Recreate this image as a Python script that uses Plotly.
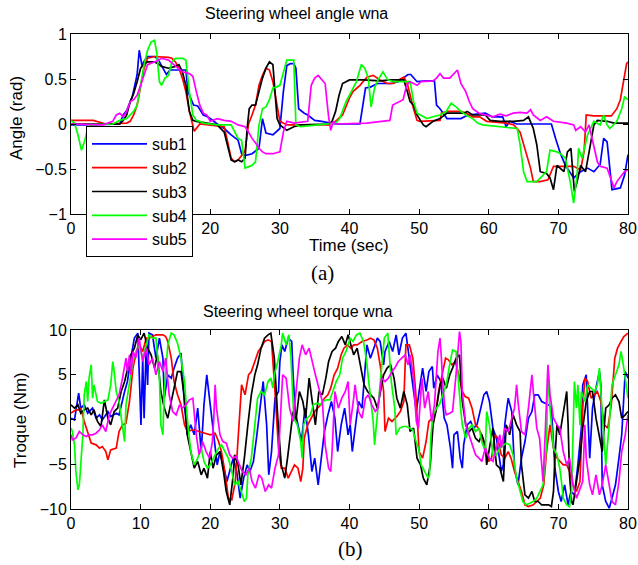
import plotly.graph_objects as go

# ---------------- data (time in s, value) ----------------
series_names = ["sub1", "sub2", "sub3", "sub4", "sub5"]
series_colors = ["#0000FF", "#FF0000", "#000000", "#00FF00", "#FF00FF"]

angle_sub1 = [(0,-0.01),(3,-0.01),(7,0.0),(7.5,0.1),(8,0.15),(8.8,0.3),(9.5,0.55),(9.8,0.82),(10.2,0.65),(10.6,0.71),(11,0.75),(12,0.75),(12.5,0.72),(13.2,0.62),(13.7,0.55),(14.2,0.6),(16.5,0.6),(16.8,0.36),(17.6,0.21),(18.2,0.2),(19,0.1),(19.6,0.08),(20.2,0.05),(21,0.0),(22,-0.05),(23,-0.12),(24,-0.18),(24.5,-0.33),(25,-0.35),(26,-0.33),(27,-0.27),(27.5,0.06),(28,-0.1),(29,-0.12),(30,-0.05),(30.5,0.36),(31,0.65),(31.5,0.67),(32,0.67),(32.3,0.62),(32.7,0.17),(33.5,0.12),(34,0.1),(35,0.04),(36,0.03),(38,0.0),(40,0.0),(41.5,0.0),(42.3,0.4),(43,0.41),(44,0.45),(45,0.45),(46,0.45),(47,0.47),(48.4,0.55),(48.8,0.55),(49.7,0.47),(51,0.48),(52.2,0.48),(52.5,0.21),(53,0.17),(54,0.06),(56,0.06),(57,0.1),(59.5,0.12),(60.5,0.08),(62,0.08),(62.5,-0.03),(63,0.03),(64,0.0),(66,0.0),(68,0.0),(69,0.0),(69.6,-0.16),(70.3,-0.33),(71,-0.46),(72.2,-0.6),(73.2,-0.53),(74.2,-0.49),(75.1,-0.53),(76,-0.45),(76.5,-0.16),(77,-0.2),(77.7,-0.73),(78.9,-0.71),(79.5,-0.57),(80,-0.34)]
angle_sub2 = [(0,0.04),(3.2,0.04),(5,0.0),(8,0.01),(8.5,0.03),(9,0.1),(9.5,0.21),(10,0.4),(10.5,0.62),(11,0.73),(12,0.75),(14,0.74),(14.5,0.73),(15,0.69),(15.5,0.62),(16,0.51),(16.5,0.36),(17,0.14),(17.7,-0.08),(18.5,0.0),(22,-0.03),(22.5,-0.2),(23,-0.38),(23.5,-0.42),(24,-0.4),(25,-0.3),(25.5,0.0),(26,0.1),(26.5,0.21),(27,0.43),(27.5,0.54),(28,0.62),(28.5,0.6),(29,0.47),(29.5,0.25),(30,0.03),(31,-0.01),(37,-0.01),(38,0.03),(39,0.1),(40,0.29),(40.5,0.36),(41.5,0.43),(42.5,0.52),(43.4,0.54),(44.4,0.49),(45.4,0.45),(46.3,0.45),(47.3,0.5),(47.8,0.52),(48.3,0.45),(48.7,0.32),(49.2,0.17),(49.7,0.04),(50.1,0.03),(53,0.04),(53.2,0.12),(54,0.14),(56,0.14),(56.8,0.12),(57.7,0.08),(58.7,0.08),(59.7,0.03),(62.6,0.01),(63.6,-0.01),(64.5,-0.09),(65,-0.23),(65.5,-0.38),(66,-0.49),(66.4,-0.64),(67.4,-0.64),(68.5,-0.62),(69.3,-0.47),(71,-0.47),(72.2,-0.47),(73.2,-0.51),(73.7,-0.3),(74,0.1),(75,0.09),(77.6,0.09),(78.4,0.17),(78.9,0.27),(79.3,0.43),(79.8,0.67),(80,0.69)]
angle_sub3 = [(0,0.0),(7,0.0),(7.5,0.04),(8,0.1),(8.5,0.25),(9,0.34),(9.5,0.47),(10,0.62),(10.5,0.67),(11,0.69),(12,0.69),(12.5,0.67),(13,0.64),(14,0.62),(15,0.64),(15.5,0.66),(16,0.58),(16.5,0.43),(17,0.14),(17.5,0.04),(18,0.03),(21,-0.01),(22,-0.09),(22.5,-0.23),(23,-0.4),(23.5,-0.42),(24,-0.4),(24.5,-0.42),(25,-0.38),(25.3,-0.05),(25.6,0.17),(26,0.21),(26.5,0.21),(27,0.36),(27.5,0.51),(28,0.62),(28.5,0.69),(29,0.66),(29.3,0.36),(29.6,0.06),(30,-0.01),(31,-0.07),(32,-0.03),(33,-0.01),(37,0.0),(37.5,0.03),(38,0.14),(38.5,0.32),(39,0.45),(40,0.49),(42,0.49),(44.4,0.48),(46,0.49),(47.8,0.49),(48.3,0.36),(48.7,0.25),(49.2,0.21),(49.7,0.1),(50.6,-0.01),(51,-0.03),(52,0.03),(53,0.06),(54,0.12),(56.4,0.12),(56.9,0.14),(57.7,0.1),(59.5,0.1),(60.2,0.04),(61.6,0.03),(63.6,0.03),(65,0.04),(65.7,0.08),(66.4,-0.05),(66.9,-0.23),(67.4,-0.53),(68.3,-0.55),(68.8,-0.6),(69.3,-0.73),(69.8,-0.46),(70.8,-0.53),(71.3,-0.31),(71.8,-0.27),(72.3,-0.75),(72.7,-0.64),(73.2,-0.46),(73.9,-0.53),(74.6,-0.23),(75.1,-0.01),(75.6,0.04),(77,0.03),(78,0.01),(80,0.01)]
angle_sub4 = [(0,0.04),(0.5,0.01),(1,-0.12),(1.5,-0.29),(2,-0.18),(2.5,-0.01),(6,0.0),(7,0.04),(8,0.06),(8.5,0.1),(9,0.14),(9.5,0.21),(10,0.43),(10.5,0.66),(11,0.82),(11.5,0.91),(12,0.93),(12.3,0.8),(12.7,0.47),(13,0.43),(13.5,0.51),(14,0.54),(14.5,0.69),(15,0.73),(16,0.73),(16.5,0.71),(17,0.36),(17.5,0.1),(18,0.04),(18.5,0.03),(19,0.01),(21,-0.01),(23,-0.01),(23.5,-0.09),(24,-0.16),(24.5,-0.18),(25,-0.49),(26,-0.46),(26.5,-0.42),(27,-0.01),(27.5,0.17),(28,0.19),(28.5,0.27),(29,0.4),(29.5,0.41),(30,0.43),(30.5,0.58),(31,0.71),(32,0.71),(32.3,-0.01),(33,-0.03),(36,-0.01),(38,0.01),(38.6,0.06),(39.5,0.25),(40,0.32),(41,0.47),(41.7,0.66),(42.2,0.62),(42.7,0.51),(43.1,0.19),(43.6,0.4),(44.1,0.49),(44.8,0.58),(45.5,0.49),(46.3,0.47),(48.7,0.47),(49.2,0.25),(49.7,0.12),(50.2,0.1),(51.1,0.06),(52,0.08),(53,0.1),(53.9,0.14),(54.6,0.23),(55.3,0.19),(55.7,0.16),(56.7,0.1),(57.7,0.06),(58.4,0.01),(59.1,-0.01),(64.1,-0.05),(64.5,-0.23),(65,-0.53),(65.5,-0.64),(66.9,-0.64),(67.4,-0.6),(68.3,-0.53),(68.8,-0.29),(69.8,-0.31),(70.3,-0.33),(71,-0.38),(71.7,-0.64),(72.2,-0.88),(72.7,-0.55),(72.9,-0.27),(73.4,-0.38),(74.2,-0.12),(75.1,0.03),(76,-0.01),(76.5,0.1),(77,-0.01),(77.4,-0.05),(78.4,0.03),(79.1,0.17),(79.5,0.3),(80,0.27)]
angle_sub5 = [(0,0.0),(4.6,-0.01),(6,0.03),(6.5,0.1),(7,0.12),(7.5,0.08),(8,0.14),(8.5,0.25),(9,0.27),(9.5,0.32),(10,0.43),(10.5,0.54),(11,0.66),(12,0.69),(13,0.73),(14,0.71),(15,0.64),(16,0.58),(17,0.56),(17.5,0.53),(18,0.36),(18.5,0.21),(19,0.12),(19.5,0.1),(20,0.03),(21,0.06),(22,0.04),(23,0.03),(24,-0.01),(25,-0.03),(25.5,-0.09),(26,-0.16),(26.5,-0.21),(27,-0.27),(27.5,-0.31),(28,-0.33),(29,-0.33),(30,-0.31),(30.5,-0.09),(31,0.03),(32,0.01),(34,0.03),(34.5,0.43),(35,0.51),(35.5,0.54),(36,0.49),(36.5,0.45),(37,0.08),(37.3,-0.07),(37.7,0.03),(38,0.0),(42.5,0.01),(43.4,0.02),(44.8,0.03),(45.8,0.04),(46.2,0.21),(46.7,0.23),(47.7,0.27),(48.2,0.43),(48.7,0.47),(49.7,0.43),(50.3,0.47),(52,0.48),(52.5,0.51),(53,0.56),(53.5,0.51),(54.4,0.51),(55.3,0.58),(55.5,0.6),(56,0.45),(56.7,0.36),(57.2,0.25),(57.7,0.17),(58.6,0.12),(59.6,0.1),(60.6,0.08),(61.6,0.11),(62.5,0.09),(63.5,0.12),(64.5,0.13),(65.5,0.12),(66,0.16),(66.4,0.1),(67.4,0.04),(68.3,0.08),(69.3,0.03),(71.2,0.01),(72.2,-0.01),(72.5,-0.07),(73.2,-0.03),(73.9,-0.09),(74.4,-0.01),(74.9,-0.18),(75.6,-0.42),(76,-0.47),(77,-0.49),(77.5,-0.6),(78,-0.71),(78.4,-0.64),(79.1,-0.57),(79.5,-0.53),(80,-0.51)]

torque_sub1 = [(0,0.15),(0.5,-0.04),(1.1,2.94),(1.4,1.27),(1.9,1.64),(2.4,0.71),(3.1,1.27),(3.6,0.15),(4.1,0.52),(4.5,-0.04),(5.3,0.89),(5.7,0.34),(6.5,0.71),(6.9,0.52),(7.7,3.13),(8.1,4.25),(8.6,6.85),(9.1,9.09),(9.6,9.65),(9.8,4.99),(10.05,-0.6),(10.3,6.85),(10.5,0.15),(10.8,8.34),(11,3.87),(11.2,9.65),(11.7,9.46),(12.2,6.85),(12.7,9.09),(13.2,6.85),(13.4,2.38),(13.9,4.99),(14.4,4.62),(14.8,5.74),(15.3,6.85),(15.8,7.41),(16.3,1.64),(16.7,-1.71),(17.2,-0.6),(17.7,-1.71),(18.2,1.27),(18.7,-3.58),(19.1,1.64),(19.5,4.99),(20.1,0.89),(20.5,-1.71),(21,-5.07),(21.4,-3.58),(21.9,-5.44),(22.4,-6.93),(22.9,-5.44),(23.3,-4.32),(23.8,-5.81),(24.3,-8.79),(24.8,-6.55),(25.3,-5.07),(25.7,-5.81),(26.2,-4.69),(26.7,-1.71),(27.2,1.27),(27.6,4.25),(28.1,-0.6),(28.4,-6.18),(28.8,-3.58),(29.3,2.38),(29.8,3.13),(30,6.48),(30.3,8.34),(30.7,7.6),(31.2,9.09),(31.7,8.72),(31.9,4.99),(32.2,0.89),(32.6,-0.6),(33.1,-2.46),(33.6,1.27),(34.1,-1.71),(34.6,-5.81),(35,-4.32),(35.5,-7.3),(36,-3.58),(36.4,-1.34),(36.9,0.52),(37.4,2.01),(37.9,0.15),(38.3,-3.58),(38.8,-0.6),(39.3,1.27),(39.8,-1.71),(40.1,-0.6),(40.4,-3.58),(40.9,-0.22),(41.3,2.01),(41.8,1.27),(42.3,5.74),(42.5,8.34),(43,6.85),(43.5,7.97),(44,9.09),(44.4,8.72),(44.9,6.11),(45.1,7.6),(45.7,8.72),(46.2,7.6),(46.7,9.46),(47.1,7.23),(47.6,9.09),(48.1,9.65),(48.6,6.85),(49.1,3.87),(49.6,0.89),(50,3.13),(50.5,5.74),(51,3.13),(51.4,5.36),(51.9,5.92),(52.1,3.5),(52.6,4.99),(53.1,4.25),(53.6,0.15),(54,-0.6),(54.5,-3.2),(54.8,-5.44),(55,-1.71),(55.5,-1.34),(55.9,-4.32),(56.2,-5.44),(56.4,-2.83),(56.9,-0.6),(57.4,-0.22),(57.8,-0.97),(58.3,-0.6),(58.8,1.27),(59.3,2.76),(59.7,3.13),(60.1,2.01),(60.6,-0.97),(61.1,-2.09),(61.6,-4.69),(61.8,-5.81),(62.1,-5.07),(62.3,-0.6),(62.6,1.27),(62.8,2.38),(63.3,0.89),(63.7,-5.44),(64.2,-7.3),(64.7,-4.32),(65.2,-2.46),(65.7,0.15),(66.2,0.89),(66.6,2.76),(67.1,2.76),(67.6,2.01),(68.1,1.82),(68.6,1.64),(69,1.27),(69.5,-5.44),(70,-8.04),(70.4,-9.16),(70.9,-7.3),(71.4,-9.53),(71.8,-8.04),(72.3,-8.42),(72.8,-5.07),(73.3,-0.97),(73.5,3.87),(74,4.99),(74.5,-4.32),(74.9,1.27),(75.4,3.5),(75.9,5.36),(76.1,3.87),(76.3,-7.3),(76.8,-9.16),(77.3,-9.91),(77.7,-8.79),(78.2,-7.3),(78.7,-4.32),(79.1,-1.71),(79.6,5.36),(80,4.62)]
torque_sub2 = [(0,0.71),(0.7,1.08),(1.2,1.08),(1.4,1.27),(1.9,-0.22),(2.4,-1.34),(2.9,-2.64),(3.6,-2.83),(4.1,-3.2),(4.5,-3.02),(5,-3.58),(5.3,-4.51),(5.7,-3.39),(6.5,-3.2),(6.9,-1.34),(7.4,-0.6),(7.9,-0.41),(8.4,2.01),(8.9,5.74),(9.3,7.23),(9.8,8.34),(10.3,7.6),(10.8,9.09),(11.2,9.09),(11.7,9.27),(12.2,9.46),(13.2,9.46),(13.6,9.27),(13.9,8.72),(14.4,6.85),(14.8,4.25),(15.3,2.76),(15.8,1.64),(16.3,-0.6),(16.7,-1.34),(17.5,-1.15),(18.4,-1.34),(19.4,-1.53),(20,-1.71),(20.7,-1.53),(21.2,-2.46),(21.6,-3.58),(22.1,-5.81),(22.6,-8.79),(23.1,-8.98),(23.6,-6.93),(24,-2.46),(24.5,3.87),(25,2.76),(25.5,4.99),(25.9,5.36),(26.4,6.48),(26.9,7.6),(27.4,8.16),(27.8,8.72),(28.3,8.9),(28.8,8.72),(29.3,3.13),(29.8,-3.2),(30.2,-5.44),(30.7,-5.44),(31.2,-6.55),(31.6,-5.81),(32.1,-5.07),(32.6,-5.44),(33,-6.93),(33.3,-5.44),(33.5,-2.09),(34,-0.6),(34.5,0.15),(35,0.89),(35.4,1.27),(35.9,1.64),(36.4,2.38),(36.9,2.76),(37.3,3.5),(37.8,4.99),(38.3,5.74),(38.8,7.23),(39.2,7.97),(39.7,8.34),(40.2,7.97),(40.6,8.34),(41.1,8.34),(41.8,8.72),(42.6,8.9),(43,9.09),(43.5,8.9),(44,7.97),(44.4,6.11),(44.9,3.13),(45.1,-1.34),(45.6,0.15),(46.1,-0.22),(46.8,0.34),(47.3,0.89),(47.8,2.01),(48.1,8.34),(48.6,8.34),(49.1,6.85),(49.5,3.13),(50,-3.58),(50.5,-4.32),(51,-2.46),(51.4,-0.22),(51.9,0.15),(52.4,0.89),(52.8,3.13),(53.3,4.99),(53.8,6.85),(54.2,6.67),(54.7,6.11),(55.2,6.48),(55.7,4.99),(56.2,3.13),(56.6,2.57),(57.1,2.38),(57.6,1.27),(58.1,-0.6),(58.5,-0.97),(59,-1.71),(59.5,-3.58),(60,-4.69),(60.4,-4.32),(60.9,-1.71),(61.3,-2.09),(61.8,-3.95),(62.3,-4.32),(62.8,-3.58),(63.2,-4.32),(63.7,-5.81),(64.2,-6.93),(64.7,-8.04),(65.2,-9.53),(65.7,-9.72),(66.4,-9.53),(66.9,-9.16),(67.4,-8.79),(67.9,-7.3),(68.3,-3.58),(68.8,-0.6),(69.3,-3.2),(69.8,-4.32),(70.2,-4.69),(70.7,-5.07),(71.2,-5.07),(71.6,-5.81),(72.1,-7.3),(72.6,-8.04),(73.1,-6.93),(73.5,1.27),(73.8,4.62),(74.2,4.25),(74.7,2.38),(75.2,2.76),(75.6,3.13),(76.1,2.01),(76.6,-0.6),(77.1,-0.97),(77.6,1.64),(78.1,6.85),(78.5,7.97),(79,8.72),(79.4,9.27),(80,9.65)]
torque_sub3 = [(0,1.64),(0.5,1.27),(1,1.64),(1.4,0.71),(1.9,1.08),(2.4,1.27),(2.9,0.52),(3.3,1.08),(3.8,-0.22),(4.3,-0.78),(4.8,2.2),(5.3,0.15),(5.7,-0.6),(6.2,0.89),(6.7,1.27),(7.2,3.13),(7.7,4.25),(8.1,5.74),(8.6,7.23),(9.1,7.97),(9.6,9.46),(10,8.9),(10.5,9.65),(11,7.97),(11.5,7.23),(12,5.74),(12.4,7.23),(12.9,3.13),(13.4,1.27),(13.9,0.15),(14.4,2.01),(14.8,3.5),(15.3,5.36),(15.8,5.36),(16.3,2.38),(16.7,-1.71),(17.2,-3.58),(17.7,-5.44),(18.2,-4.69),(18.7,-6.18),(19.1,-5.44),(19.6,-6.55),(20,-3.58),(20.4,-5.44),(20.9,-3.95),(21.4,-3.58),(21.9,-5.81),(22.3,-8.04),(22.8,-9.53),(23.3,-6.18),(23.5,-3.95),(24,-5.07),(24.4,-7.3),(24.9,-4.32),(25.4,-0.6),(25.9,2.76),(26.4,4.99),(26.8,6.11),(27.3,7.97),(27.8,9.09),(28.3,9.46),(28.7,9.65),(29.2,6.85),(29.7,0.15),(30.2,-5.07),(30.7,-6.55),(31.1,-4.32),(31.6,-1.34),(31.9,0.89),(32.3,-0.22),(32.8,3.13),(33.3,2.01),(33.7,0.15),(34.2,4.62),(34.7,1.64),(35.1,-0.6),(35.6,3.13),(36.1,2.76),(36.6,4.62),(37,6.48),(37.5,7.6),(38,7.97),(38.4,8.72),(38.9,9.27),(39.4,8.34),(39.8,9.46),(40.2,8.34),(40.6,7.23),(41.1,7.97),(41.6,5.74),(42.1,3.87),(42.6,3.13),(43,2.76),(43.5,2.38),(44,1.27),(44.4,3.13),(44.9,4.99),(45.4,5.74),(45.9,6.11),(46.4,4.62),(46.8,2.38),(47.3,1.27),(47.8,3.13),(48.3,1.64),(48.7,-1.34),(49.2,-0.97),(49.7,-4.32),(50.2,-5.07),(50.6,-6.55),(51.1,-7.3),(51.6,-5.07),(52,-0.6),(52.5,1.27),(53,3.87),(53.4,4.62),(53.9,3.5),(54.4,4.99),(54.8,5.74),(55.3,6.85),(55.8,7.23),(56.2,2.01),(56.7,-0.6),(57.2,-1.34),(57.6,-0.97),(58.1,-2.09),(58.6,-2.46),(59,-1.71),(59.5,-2.83),(59.7,-5.07),(60.1,-3.2),(60.6,-0.97),(61.1,-5.07),(61.6,-5.44),(62.1,-6.93),(62.5,-0.6),(63,-1.71),(63.5,0.52),(64,-0.6),(64.5,-1.34),(64.7,-5.07),(65.2,-8.42),(65.7,-8.79),(66.2,-8.04),(66.6,-9.16),(67.1,-9.16),(67.6,-9.53),(68.1,-9.53),(68.6,-9.53),(69,-9.72),(69.3,-8.04),(69.5,-4.32),(69.8,-0.6),(70.2,-1.71),(70.7,0.89),(70.9,2.01),(71.2,3.13),(71.4,-0.6),(71.6,-6.18),(71.9,-9.16),(72.1,-9.53),(72.6,-6.93),(73.1,-4.32),(73.5,-0.97),(74,2.01),(74.5,3.13),(74.9,3.13),(75.4,0.15),(75.9,-1.71),(76.3,-3.58),(76.8,1.27),(77.3,1.64),(77.7,2.38),(78.2,2.76),(78.7,2.01),(79.1,0.15),(79.6,0.52),(80,0.89)]
torque_sub4 = [(0,-0.97),(0.2,-1.34),(0.5,-2.83),(0.7,-5.81),(1,-7.86),(1.2,-7.3),(1.4,-5.07),(1.7,-1.71),(1.9,2.76),(2.2,4.25),(2.4,2.01),(2.6,4.62),(2.9,6.11),(3.1,2.38),(3.3,3.87),(3.8,2.01),(4.3,1.82),(4.8,2.01),(5.3,2.2),(5.7,3.87),(6,6.48),(6.2,5.36),(6.5,3.13),(6.9,2.01),(7.4,-0.6),(7.7,-2.46),(7.9,1.64),(8.4,4.25),(8.9,6.48),(9.3,7.6),(9.8,8.34),(10.3,6.85),(10.8,8.34),(11.2,9.46),(11.7,9.09),(12.2,9.09),(12.7,4.62),(12.9,-0.6),(13.2,-1.71),(13.4,3.13),(13.9,8.34),(14.4,9.65),(14.8,9.46),(15.3,8.53),(15.8,6.85),(16.3,4.25),(16.7,0.15),(17.2,-3.58),(17.7,-5.07),(18.2,-4.32),(18.7,-3.2),(19.1,-4.69),(19.6,-5.44),(20,-5.07),(20.7,-3.95),(21.2,-3.2),(21.6,-2.83),(22.1,-3.58),(22.6,-4.32),(23.1,-5.81),(23.5,-7.3),(24,-6.93),(24.5,-8.04),(24.9,-9.16),(25.2,-8.79),(25.4,-6.18),(25.9,-4.32),(26.4,-0.6),(26.8,2.38),(27.3,3.13),(27.8,2.76),(28.3,4.25),(28.7,4.62),(29,3.5),(29.2,4.99),(29.7,6.48),(30.2,8.34),(30.4,9.65),(30.9,8.34),(31.3,9.46),(31.6,6.85),(31.8,3.5),(32,0.15),(32.5,-0.6),(33,-2.46),(33.2,-4.32),(33.4,-0.6),(33.9,0.15),(34.4,0.52),(34.8,1.64),(35.3,1.82),(35.8,1.64),(36.2,2.01),(36.7,2.2),(37.2,2.2),(37.6,3.13),(38.1,4.25),(38.6,4.99),(39,6.85),(39.5,7.6),(40.1,9.09),(40.5,8.72),(41,9.46),(41.5,9.65),(42,8.72),(42.4,6.85),(42.9,3.13),(43.4,-0.22),(43.6,-2.83),(44.1,1.64),(44.6,5.74),(45,9.09),(45.5,9.65),(46,4.25),(46.5,1.27),(46.7,-1.71),(47.2,-0.97),(47.7,-0.78),(48.2,-0.78),(48.7,-0.97),(49.1,-1.15),(49.4,-2.09),(49.9,-3.2),(50.3,-5.07),(50.8,-5.81),(51.3,-6.55),(51.5,-6.18),(51.7,-1.71),(52,0.52),(52.5,1.27),(52.9,1.64),(53.4,2.76),(53.9,3.87),(54.3,5.74),(54.8,7.78),(55.3,7.6),(55.7,3.13),(56,0.89),(56.2,-0.6),(56.7,-2.09),(57.2,-0.97),(57.6,-0.6),(58.1,-1.34),(58.6,-0.97),(59,-2.46),(59.5,-3.58),(59.7,0.89),(60.1,-0.6),(60.6,-3.95),(61.1,-3.95),(61.6,-3.2),(62.1,-2.83),(62.5,-2.64),(63,-2.83),(63.5,-3.95),(64,-6.55),(64.5,-8.04),(64.9,-9.16),(65.4,-9.53),(65.9,-9.35),(66.4,-9.16),(66.9,-8.79),(67.3,-8.04),(67.8,-7.3),(68.3,-2.83),(68.5,5.54),(68.8,1.27),(69.3,-3.2),(69.8,-3.95),(70.2,-5.44),(70.5,-7.3),(70.7,-8.79),(71.2,-9.53),(71.6,-9.72),(71.9,-8.04),(72.1,-0.6),(72.3,4.25),(72.6,1.27),(72.8,3.87),(73.1,-0.6),(73.3,3.13),(73.8,2.01),(74.2,3.87),(74.7,3.5),(75.2,3.13),(75.6,3.87),(75.9,5.74),(76.1,3.13),(76.6,-2.83),(76.8,-5.07),(77.3,-0.6),(77.7,3.87),(78.2,4.99),(78.7,6.11),(79,7.6),(79.4,5.74),(80,2.38)]
torque_sub5 = [(0,-1.71),(0.2,-2.27),(0.7,-2.09),(1.2,-1.34),(1.7,-1.71),(2.2,-1.9),(2.6,-1.71),(3.1,-1.71),(3.6,-1.53),(4.1,-1.15),(4.5,-0.6),(5,-1.34),(5.5,0.52),(6,1.27),(6.5,2.01),(6.9,2.76),(7.4,4.62),(7.9,6.85),(8.1,5.36),(8.4,7.23),(8.6,4.99),(8.9,7.6),(9.3,6.85),(9.8,9.09),(10,7.97),(10.3,6.48),(10.8,7.97),(11.2,6.11),(11.7,6.85),(12.2,4.99),(12.7,6.48),(13.2,5.36),(13.6,6.85),(14.1,2.76),(14.6,0.89),(15.1,0.52),(15.6,1.64),(16,1.27),(16.5,1.64),(17,2.2),(17.5,2.38),(18,-1.71),(18.4,-3.95),(18.9,-2.46),(19.4,-3.58),(19.9,-4.32),(20.3,-2.5),(20.5,-0.04),(20.7,3.87),(20.9,1.27),(21.4,-1.71),(21.8,-2.46),(22.3,-2.64),(22.8,-3.95),(23.2,-4.32),(23.7,-4.13),(24.2,-5.07),(24.6,-5.81),(25.1,-6.18),(25.6,-5.44),(26,-6.93),(26.5,-7.67),(27,-6.18),(27.4,-6.55),(27.9,-8.04),(28.4,-7.3),(28.8,-7.67),(29.3,-5.44),(29.8,-3.95),(30.2,3.13),(30.4,4.99),(30.9,4.62),(31.4,1.27),(31.9,-0.22),(32.3,3.13),(32.8,6.85),(33.2,8.34),(33.7,7.23),(34.2,7.97),(34.6,6.48),(35.1,4.99),(35.6,3.5),(36.1,2.01),(36.5,-2.83),(37,-5.44),(37.3,-5.81),(37.5,-3.58),(37.9,3.13),(38.4,1.27),(38.9,2.38),(39.4,3.13),(39.8,4.25),(40.1,-0.6),(40.6,2.38),(40.8,3.87),(41.3,0.89),(41.8,0.15),(42.3,2.38),(42.7,2.76),(43.2,1.64),(43.7,0.89),(44.1,1.27),(44.6,4.62),(45.1,4.25),(45.6,4.62),(46.1,5.36),(46.5,5.74),(47,6.48),(47.5,6.85),(48,7.23),(48.4,6.11),(48.7,7.23),(49.2,4.62),(49.6,-0.22),(49.9,-0.97),(50.4,4.62),(50.8,1.27),(51.3,3.13),(51.8,-0.22),(52.2,1.64),(52.7,7.6),(53,9.09),(53.2,6.85),(53.4,3.87),(53.7,1.27),(53.9,0.52),(54.4,0.71),(54.8,0.89),(55.3,4.99),(55.8,9.83),(56,8.72),(56.2,3.13),(56.7,-0.6),(57.2,-1.71),(57.6,-2.83),(58.1,-3.95),(58.6,-4.32),(59,-4.69),(59.5,-3.2),(59.7,-3.58),(60.1,-4.32),(60.6,-4.69),(61.1,-3.2),(61.6,-1.71),(61.8,-3.2),(62.1,-1.71),(62.3,-0.97),(62.8,-1.34),(63.2,-0.22),(63.7,1.27),(64,3.87),(64.2,2.01),(64.7,-1.34),(65.2,-1.71),(65.7,1.27),(66.2,4.99),(66.4,3.13),(66.9,-0.97),(67.3,-2.09),(67.8,-6.93),(68.1,-1.71),(68.5,6.11),(68.8,2.76),(69.3,0.15),(69.8,-0.6),(70.2,-0.97),(70.7,-3.58),(71.2,-5.07),(71.6,-4.32),(72.1,-7.3),(72.6,-8.79),(73,-8.04),(73.5,-6.93),(73.8,-0.6),(74,-4.32),(74.5,-7.3),(74.9,-8.42),(75.4,-6.18),(75.9,-8.42),(76.3,-7.3),(76.8,-5.07),(77.3,-7.3),(77.7,-9.16),(78.2,-9.53),(78.7,-6.93),(79.1,-3.58),(79.6,-1.71),(80,0.52)]

angle_series = [angle_sub1, angle_sub2, angle_sub3, angle_sub4, angle_sub5]
torque_series = [torque_sub1, torque_sub2, torque_sub3, torque_sub4, torque_sub5]

x_ticks = [0, 10, 20, 30, 40, 50, 60, 70, 80]
angle_ticks = [-1, -0.5, 0, 0.5, 1]
angle_tick_text = ["\u22121", "\u22120.5", "0", "0.5", "1"]
torque_ticks = [-10, -5, 0, 5, 10]
torque_tick_text = ["\u221210", "\u22125", "0", "5", "10"]

# ---------------- figure ----------------
W, H = 638, 565
fig = go.Figure()

for name, color, data in zip(series_names, series_colors, angle_series):
    t, v = zip(*data)
    fig.add_trace(go.Scatter(x=list(t), y=list(v), mode="lines", name=name,
                             line=dict(color=color, width=1.7),
                             xaxis="x", yaxis="y", showlegend=True))
for name, color, data in zip(series_names, series_colors, torque_series):
    t, v = zip(*data)
    fig.add_trace(go.Scatter(x=list(t), y=list(v), mode="lines", name=name,
                             line=dict(color=color, width=1.7),
                             xaxis="x2", yaxis="y2", showlegend=False))

def px_x(p):
    return p / W

def px_y(p):
    return 1 - p / H

axis_common = dict(showline=True, linecolor="black", linewidth=1, mirror="ticks",
                   ticks="inside", ticklen=5, tickcolor="black", tickwidth=1,
                   showgrid=False, zeroline=False, automargin=False,
                   tickfont=dict(family="Liberation Sans, Arial", size=16, color="black"))

x_dom = [px_x(71), px_x(628)]
fig.update_layout(
    width=W, height=H,
    margin=dict(l=0, r=0, t=0, b=0, autoexpand=False),
    paper_bgcolor="white", plot_bgcolor="white",
    font=dict(family="Liberation Sans, Arial", color="black", size=16),
    xaxis=dict(domain=x_dom, range=[0, 80], tickvals=x_ticks, anchor="y", **axis_common),
    yaxis=dict(domain=[px_y(214), px_y(34)], range=[-1, 1], tickvals=angle_ticks,
               ticktext=angle_tick_text, anchor="x", **axis_common),
    xaxis2=dict(domain=x_dom, range=[0, 80], tickvals=x_ticks, anchor="y2", **axis_common),
    yaxis2=dict(domain=[px_y(509), px_y(330)], range=[-10, 10], tickvals=torque_ticks,
                ticktext=torque_tick_text, anchor="x2", **axis_common),
    legend=dict(x=px_x(86), y=px_y(126), xanchor="left", yanchor="top",
                bgcolor="white", bordercolor="black", borderwidth=1,
                font=dict(family="Liberation Sans, Arial", size=16, color="black"),
                itemwidth=55, tracegroupgap=0),
    showlegend=True,
)

def label(text, x, y, size=16, angle=0, family="Liberation Sans, Arial"):
    fig.add_annotation(text=text, x=px_x(x), y=px_y(y), xref="paper", yref="paper",
                       xanchor="center", yanchor="middle", showarrow=False, textangle=angle,
                       font=dict(family=family, size=size, color="black"))

label("Steering wheel angle wna", 296, 13, size=16)
label("Steering wheel torque wna", 298, 311, size=16)
label("Time (sec)", 349, 246, size=17)
label("Angle (rad)", 17, 118, size=17, angle=-90)
label("Troque (Nm)", 20, 420, size=17, angle=-90)
label("(a)", 322, 273, size=21, family="Liberation Serif, Times New Roman")
label("(b)", 350, 549, size=21, family="Liberation Serif, Times New Roman")

fig.write_html("out.html", config={"displayModeBar": False},
               post_script="document.body.style.margin='0';")
